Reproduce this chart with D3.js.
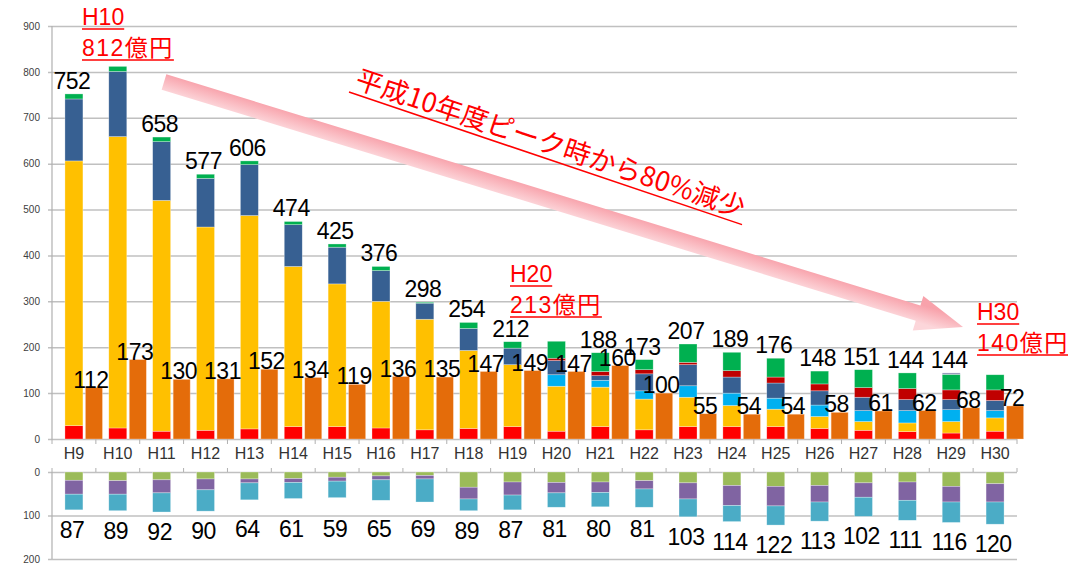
<!DOCTYPE html>
<html>
<head>
<meta charset="utf-8">
<script src="https://cdn.jsdelivr.net/npm/d3@7"></script>
<style>
  body { margin: 0; background: #fff; }
  svg { display: block; font-family: "Liberation Sans", Arial, "Noto Sans CJK JP", sans-serif; }
</style>
</head>
<body>
<div id="chart"></div>
<script>
const years = ["H9", "H10", "H11", "H12", "H13", "H14", "H15", "H16", "H17", "H18", "H19",
  "H20", "H21", "H22", "H23", "H24", "H25", "H26", "H27", "H28", "H29", "H30"];

// upper stacked bars, bottom to top (億円)
const redPart       = [29, 24, 17, 19, 22, 27, 27, 24, 20, 23, 27, 17, 27, 20, 27, 27, 27, 23, 19, 16, 13, 17];
const yellowPart    = [577, 635, 503, 443, 465, 349, 311, 276, 241, 170, 135, 98, 86, 67, 64, 46, 38, 26, 19, 19, 25, 29];
const lightBluePart = [0, 0, 0, 0, 0, 0, 0, 0, 0, 0, 0, 25, 15, 18, 25, 27, 24, 25, 24, 27, 26, 16];
const darkBluePart  = [135, 142, 128, 106, 111, 91, 80, 67, 35, 48, 36, 31, 10, 37, 46, 35, 33, 31, 29, 24, 22, 22];
const darkRedPart   = [0, 0, 0, 0, 0, 0, 0, 0, 0, 0, 0, 5, 9, 9, 5, 14, 13, 15, 21, 24, 21, 23];
const greenPart     = [11, 11, 10, 9, 8, 7, 7, 9, 2, 13, 14, 37, 41, 22, 40, 40, 41, 28, 39, 34, 34, 33];
const otherPart     = [0, 0, 0, 0, 0, 0, 0, 0, 0, 0, 0, 0, 0, 0, 0, 0, 0, 0, 0, 0, 3, 0];

// orange bar next to each stack
const orangeBars = [112, 173, 130, 131, 152, 134, 119, 136, 135, 147, 149, 147, 160, 100, 55, 54, 54, 58, 61, 62, 68, 72];

// totals written over the stacks (none where the red note stands)
const totalLabels = [752, null, 658, 577, 606, 474, 425, 376, 298, 254, 212, null, 188, 173, 207, 189, 176, 148, 151, 144, 144, null];

// lower panel, drawn downward
const lowGreen  = [19, 20, 18, 16, 16, 15, 12, 9, 8, 35, 23, 24, 23, 20, 25, 31, 33, 31, 25, 23, 33, 27];
const lowPurple = [32, 31, 30, 25, 9, 9, 9, 9, 8, 27, 30, 24, 24, 19, 37, 46, 45, 38, 33, 42, 36, 42];
const lowTeal   = [36, 38, 44, 49, 39, 37, 38, 47, 53, 27, 34, 33, 33, 42, 41, 37, 44, 44, 44, 46, 47, 51];

const upperTicks = [0, 100, 200, 300, 400, 500, 600, 700, 800, 900];
const lowerTicks = [0, 100, 200];

const notes = [["H10", "812億円"], ["H20", "213億円"], ["H30", "140億円"]];
const trendText = "平成10年度ピーク時から80%減少";

const upperKeys = ["red", "yellow", "lightBlue", "darkBlue", "darkRed", "green", "other"];
const upperColors = ["#ff0000", "#ffc000", "#00b0f0", "#376092", "#c00000", "#00b050", "#8e8db5"];
const lowerKeys = ["green", "purple", "teal"];
const lowerColors = ["#9bbb59", "#8064a2", "#4bacc6"];

const W = 1068, H = 565;
const plotLeft = 52, plotRight = 1017;

const svg = d3.select("#chart").append("svg")
  .attr("width", W)
  .attr("height", H);

const x = d3.scaleBand().domain(years).range([plotLeft, plotRight]);
const y = d3.scaleLinear().domain([0, 900]).range([439, 26]);
const y2 = d3.scaleLinear().domain([0, 200]).range([472, 559]);
const cx = d => x(d) + x.bandwidth() / 2;

const upperRows = years.map((yr, i) => ({
  year: yr, red: redPart[i], yellow: yellowPart[i], lightBlue: lightBluePart[i],
  darkBlue: darkBluePart[i], darkRed: darkRedPart[i], green: greenPart[i], other: otherPart[i]
}));
const lowerRows = years.map((yr, i) => ({ year: yr, green: lowGreen[i], purple: lowPurple[i], teal: lowTeal[i] }));

// Upper grid + y labels
const yAxis = svg.append("g")
  .attr("transform", "translate(" + plotLeft + ",0)")
  .call(d3.axisLeft(y).tickValues(upperTicks).tickSize(-(plotRight - plotLeft)).tickPadding(12));
yAxis.select(".domain").remove();
yAxis.selectAll("line").attr("stroke", "#c0c0c0").attr("stroke-width", 1.5).attr("x1", -4);
yAxis.selectAll("text").attr("fill", "#404040").attr("font-size", 10);

// Lower grid + y labels
const y2Axis = svg.append("g")
  .attr("transform", "translate(" + plotLeft + ",0)")
  .call(d3.axisLeft(y2).tickValues(lowerTicks).tickSize(-(plotRight - plotLeft)).tickPadding(12));
y2Axis.select(".domain").remove();
y2Axis.selectAll("line").attr("stroke", "#c0c0c0").attr("stroke-width", 1.5).attr("x1", -4);
y2Axis.selectAll("text").attr("fill", "#404040").attr("font-size", 10);

// vertical axis lines
svg.append("line").attr("x1", plotLeft).attr("x2", plotLeft).attr("y1", y(900)).attr("y2", y(0))
  .attr("stroke", "#b0b0b0").attr("stroke-width", 1.2);
svg.append("line").attr("x1", plotLeft).attr("x2", plotLeft).attr("y1", y2(0)).attr("y2", y2(200))
  .attr("stroke", "#b0b0b0").attr("stroke-width", 1.2);

// category boundary ticks
const bounds = years.map(d => x(d)).concat([plotRight]);
svg.append("g").selectAll("line").data(bounds).join("line")
  .attr("x1", d => d).attr("x2", d => d).attr("y1", y(0)).attr("y2", y(0) + 5)
  .attr("stroke", "#b0b0b0");
svg.append("g").selectAll("line").data(bounds).join("line")
  .attr("x1", d => d).attr("x2", d => d).attr("y1", y2(0)).attr("y2", y2(0) - 4)
  .attr("stroke", "#b0b0b0");

// x labels between panels
const xAxis = svg.append("g")
  .attr("transform", "translate(0," + y(0) + ")")
  .call(d3.axisBottom(x).tickSize(0).tickPadding(9));
xAxis.select(".domain").remove();
xAxis.selectAll("text").attr("fill", "#333").attr("font-size", 16);

// Trend arrow (pink band)
const arrowStart = [164, 82], arrowTip = [963, 327];
const ang = Math.atan2(arrowTip[1] - arrowStart[1], arrowTip[0] - arrowStart[0]) * 180 / Math.PI;
const len = Math.hypot(arrowTip[0] - arrowStart[0], arrowTip[1] - arrowStart[1]);
const defs = svg.append("defs");
const grad = defs.append("linearGradient").attr("id", "arrowGrad")
  .attr("gradientUnits", "userSpaceOnUse").attr("x1", 0).attr("y1", -9).attr("x2", 0).attr("y2", 9);
grad.append("stop").attr("offset", 0).attr("stop-color", "#f8a2ab");
grad.append("stop").attr("offset", 1).attr("stop-color", "#fcd6da");
const headLen = 47, bandHalf = 8, headHalf = 18;
svg.append("g")
  .attr("transform", "translate(" + arrowStart + ") rotate(" + ang + ")")
  .append("path")
  .attr("d", "M0," + (-bandHalf) + "L" + (len - headLen) + "," + (-bandHalf) + "L" + (len - headLen) + "," + (-headHalf) +
    "L" + len + ",0L" + (len - headLen) + "," + headHalf + "L" + (len - headLen) + "," + bandHalf + "L0," + bandHalf + "Z")
  .attr("fill", "url(#arrowGrad)");

// Upper stacked bars
const upperSeries = d3.stack().keys(upperKeys)(upperRows);
const stackW = 18;
svg.append("g").selectAll("g").data(upperSeries).join("g")
  .attr("fill", (d, i) => upperColors[i])
  .selectAll("rect").data(d => d).join("rect")
    .attr("x", d => cx(d.data.year) - stackW / 2)
    .attr("width", stackW)
    .attr("y", d => y(d[1]))
    .attr("height", d => y(d[0]) - y(d[1]))
    .attr("stroke", "rgba(255,255,255,0.5)")
    .attr("stroke-width", 0.6);

// Orange bars
const orangeW = 17, orangeShift = 20;
svg.append("g").selectAll("rect").data(orangeBars).join("rect")
  .attr("x", (d, i) => cx(years[i]) + orangeShift - orangeW / 2)
  .attr("width", orangeW)
  .attr("y", d => y(d))
  .attr("height", d => y(0) - y(d))
  .attr("fill", "#e46c0a")
  .attr("stroke", "rgba(255,220,190,0.6)")
  .attr("stroke-width", 0.6);

// Lower stacked bars
const lowerSeries = d3.stack().keys(lowerKeys)(lowerRows);
svg.append("g").selectAll("g").data(lowerSeries).join("g")
  .attr("fill", (d, i) => lowerColors[i])
  .selectAll("rect").data(d => d).join("rect")
    .attr("x", d => cx(d.data.year) - stackW / 2)
    .attr("width", stackW)
    .attr("y", d => y2(d[0]))
    .attr("height", d => y2(d[1]) - y2(d[0]))
    .attr("stroke", "rgba(255,255,255,0.5)")
    .attr("stroke-width", 0.6);

// value labels
const numLabel = sel => sel.attr("font-size", 23).attr("letter-spacing", -0.5)
  .attr("text-anchor", "middle").attr("fill", "#000");

const totals = upperRows.map(r => d3.sum(upperKeys, k => r[k]));
svg.append("g").selectAll("text").data(totalLabels).join("text")
  .call(numLabel)
  .attr("x", (d, i) => cx(years[i]) - 2)
  .attr("y", (d, i) => y(totals[i]) - 5)
  .text(d => d == null ? "" : d);

svg.append("g").selectAll("text").data(orangeBars).join("text")
  .call(numLabel)
  .attr("x", (d, i) => cx(years[i]) + orangeShift - 3)
  .attr("y", d => y(d))
  .text(d => d);

const lowTotals = lowerRows.map(r => d3.sum(lowerKeys, k => r[k]));
svg.append("g").selectAll("text").data(lowTotals).join("text")
  .call(numLabel)
  .attr("x", (d, i) => cx(years[i]) - 2)
  .attr("y", d => Math.max(537, y2(d) + 28))
  .text(d => d);

// red notes with underlines
const notePos = [[82, 25], [510, 282], [977, 320]];
notes.forEach((lines, n) => {
  lines.forEach((t, k) => {
    const tx = svg.append("text")
      .attr("x", notePos[n][0])
      .attr("y", notePos[n][1] + k * 31)
      .attr("font-size", 23)
      .attr("letter-spacing", k ? 1.5 : 0)
      .attr("fill", "#ff0000")
      .text(t);
    const w = tx.node().getComputedTextLength();
    svg.append("line")
      .attr("x1", notePos[n][0]).attr("x2", notePos[n][0] + w)
      .attr("y1", notePos[n][1] + k * 31 + 4).attr("y2", notePos[n][1] + k * 31 + 4)
      .attr("stroke", "#ff0000").attr("stroke-width", 1.5);
  });
});

// rotated trend caption
const cap = svg.append("g").attr("transform", "translate(349,92) rotate(18.65)");
const capText = cap.append("text")
  .attr("x", 3).attr("y", -6)
  .attr("font-family", "'Noto Sans CJK JP', sans-serif")
  .attr("font-size", 27)
  .attr("fill", "#ff0000")
  .text(trendText);
const capW = capText.node().getComputedTextLength();
cap.append("line").attr("x1", 0).attr("x2", capW + 6).attr("y1", 0).attr("y2", 0)
  .attr("stroke", "#ff0000").attr("stroke-width", 1.5);
</script>
</body>
</html>
